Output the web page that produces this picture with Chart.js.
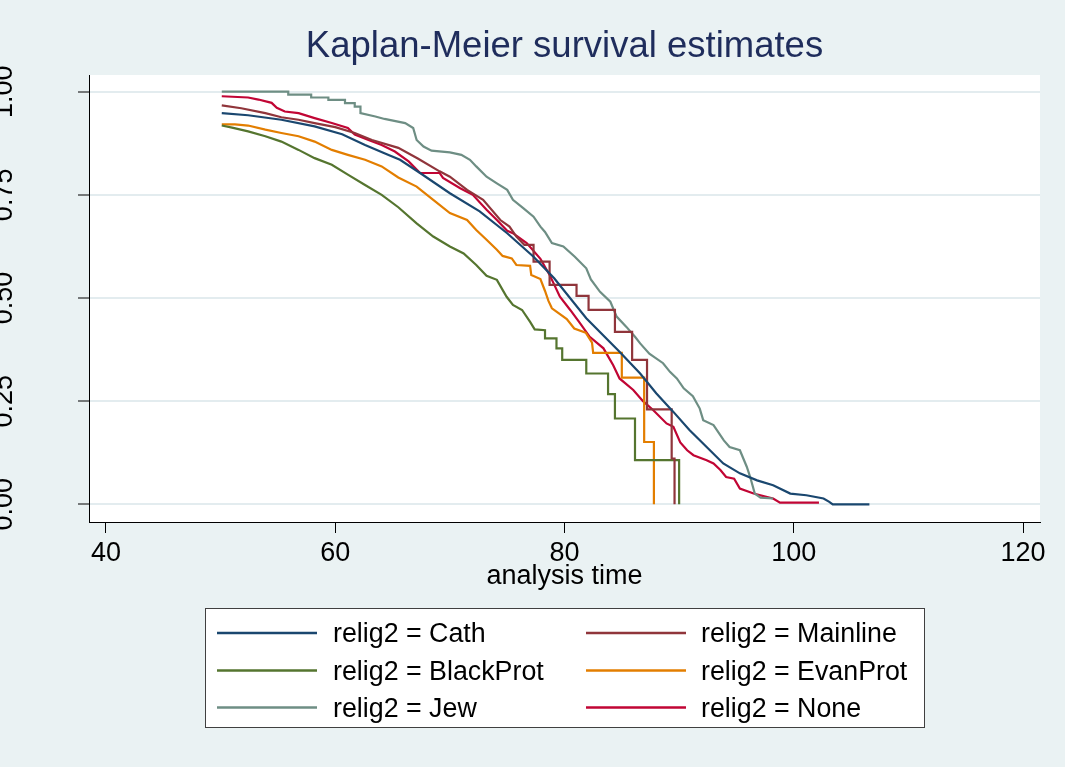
<!DOCTYPE html>
<html><head><meta charset="utf-8">
<script src="https://cdn.jsdelivr.net/npm/chart.js@4.4.1/dist/chart.umd.min.js"></script>
<style>html,body{margin:0;padding:0;background:#eaf2f3;} canvas{display:block;}</style>
</head><body>
<canvas id="c" width="1065" height="767"></canvas>
<script>
// ---- data (time, survival) ----
const seriesLabels = ['relig2 = Cath','relig2 = Mainline','relig2 = BlackProt','relig2 = EvanProt','relig2 = Jew','relig2 = None'];
const xTicks = [40, 60, 80, 100, 120];
const yTicks = [0, 0.25, 0.5, 0.75, 1];

const cath = [[50.1,0.948],[52.4,0.943],[55.3,0.932],[58.2,0.916],[60.6,0.897],[62.6,0.871],[64.6,0.847],[65.65,0.835],[67.4,0.803],[70.0,0.754],[72.6,0.710],[75.0,0.657],[77.3,0.600],[79.1,0.548],[81.9,0.451],[84.8,0.370],[86.6,0.317],[88.0,0.269],[89.5,0.224],[90.9,0.180],[92.4,0.139],[93.85,0.099],[95.3,0.075],[96.8,0.058],[98.2,0.046],[99.7,0.026],[101.1,0.022],[102.6,0.014],[103.1,0.006],[103.4,0.0],[106.6,0.0]];

const mainline = [[50.1,0.967],[51.8,0.960],[53.9,0.948],[55.3,0.938],[56.8,0.932],[58.2,0.924],[60.0,0.914],[61.7,0.900],[63.2,0.883],[65.5,0.864],[67.2,0.838],[69.1,0.807],[70.0,0.794],[71.5,0.762],[72.9,0.738],[74.4,0.689],[75.2,0.673],[75.8,0.649],[76.5,0.629],[77.3,0.629],[77.3,0.588],[78.7,0.588],[78.7,0.532],[81.05,0.532],[81.05,0.505],[82.1,0.505],[82.1,0.471],[84.4,0.471],[84.4,0.418],[85.9,0.418],[85.9,0.350],[87.2,0.350],[87.2,0.230],[89.35,0.230],[89.35,0.111],[89.6,0.111],[89.6,0.0]];

const blackProt = [[50.1,0.918],[51.0,0.913],[52.4,0.904],[53.9,0.892],[55.3,0.879],[56.8,0.859],[58.2,0.839],[59.7,0.823],[61.1,0.799],[62.6,0.774],[64.05,0.750],[65.5,0.720],[67.1,0.681],[68.55,0.649],[70.0,0.625],[71.2,0.608],[72.3,0.580],[73.2,0.554],[74.1,0.544],[74.95,0.503],[75.5,0.483],[76.3,0.471],[77.0,0.442],[77.4,0.424],[78.3,0.422],[78.3,0.402],[79.3,0.402],[79.3,0.378],[79.8,0.378],[79.8,0.350],[81.9,0.350],[81.9,0.317],[83.8,0.317],[83.8,0.267],[84.4,0.267],[84.4,0.208],[86.15,0.208],[86.15,0.107],[90.0,0.107],[90.0,0.0]];

const evanProt = [[50.1,0.921],[51.25,0.921],[52.4,0.918],[53.9,0.908],[55.3,0.900],[56.8,0.892],[58.2,0.879],[59.7,0.859],[61.1,0.847],[62.6,0.835],[64.05,0.819],[65.5,0.792],[67.1,0.770],[68.55,0.738],[70.0,0.706],[71.5,0.689],[72.3,0.665],[73.2,0.641],[74.1,0.617],[74.6,0.602],[75.4,0.596],[75.8,0.580],[77.0,0.578],[77.1,0.556],[77.9,0.546],[78.3,0.517],[78.6,0.493],[78.9,0.475],[79.3,0.467],[80.2,0.449],[80.85,0.426],[81.85,0.416],[82.4,0.392],[82.5,0.367],[85.0,0.367],[85.0,0.307],[86.95,0.307],[86.95,0.151],[87.8,0.151],[87.8,0.0]];

const jew = [[50.1,1.0],[55.9,1.0],[55.9,0.993],[57.9,0.993],[57.9,0.986],[59.4,0.986],[59.4,0.980],[60.85,0.980],[60.85,0.9725],[61.7,0.9725],[61.7,0.964],[62.2,0.964],[62.2,0.948],[63.5,0.940],[64.3,0.934],[66.1,0.924],[66.8,0.912],[67.1,0.883],[67.7,0.867],[68.4,0.857],[70.0,0.853],[71.0,0.847],[71.75,0.835],[72.3,0.819],[73.2,0.794],[74.1,0.778],[75.0,0.762],[75.5,0.738],[76.4,0.718],[77.3,0.697],[77.9,0.673],[78.3,0.660],[78.9,0.633],[79.9,0.625],[80.9,0.600],[81.9,0.572],[82.3,0.545],[83.1,0.515],[84.0,0.491],[84.55,0.455],[85.4,0.430],[86.15,0.406],[86.6,0.390],[87.4,0.365],[88.6,0.342],[89.2,0.321],[89.8,0.305],[90.4,0.281],[91.2,0.262],[91.8,0.232],[92.1,0.204],[93.0,0.192],[93.9,0.155],[94.4,0.139],[95.3,0.131],[95.9,0.091],[96.2,0.066],[96.6,0.026],[97.1,0.016],[98.2,0.014]];

const none = [[50.1,0.989],[52.4,0.986],[53.3,0.981],[54.45,0.973],[54.9,0.961],[55.6,0.952],[56.8,0.948],[58.2,0.936],[59.7,0.924],[61.1,0.912],[61.7,0.896],[62.9,0.883],[64.05,0.871],[65.2,0.855],[66.4,0.831],[67.4,0.803],[69.1,0.803],[69.4,0.791],[70.9,0.766],[72.0,0.750],[73.2,0.714],[74.1,0.689],[75.0,0.663],[75.5,0.657],[76.7,0.633],[77.9,0.595],[78.7,0.556],[79.6,0.503],[80.5,0.471],[81.35,0.439],[82.2,0.406],[83.4,0.378],[84.25,0.337],[84.8,0.305],[86.0,0.277],[86.85,0.250],[87.75,0.228],[88.9,0.196],[89.5,0.188],[90.1,0.150],[90.7,0.131],[91.25,0.119],[92.4,0.107],[93.0,0.099],[93.6,0.083],[94.1,0.066],[94.8,0.062],[95.3,0.038],[96.5,0.026],[97.6,0.018],[98.2,0.014],[98.8,0.004],[102.2,0.004]];

const seriesData = [cath, mainline, blackProt, evanProt, jew, none];

// ---- styling / chart ----
const lineColors = ['#1a476f','#90353b','#55752f','#e37e00','#6e8e84','#c10534'];
const FONT = "'Liberation Sans', Arial, Helvetica, sans-serif";
Chart.defaults.font.family = FONT;

const bgPlugin = {
  id: 'bg',
  beforeDraw(chart) {
    const {ctx, chartArea: a} = chart;
    ctx.save();
    ctx.fillStyle = '#eaf2f3';
    ctx.fillRect(0, 0, chart.width, chart.height);
    ctx.fillStyle = '#ffffff';
    ctx.fillRect(a.left, a.top, a.right - a.left, a.bottom - a.top);
    ctx.restore();
  }
};

const boxLegend = {
  id: 'boxLegend',
  afterDraw(chart) {
    const ctx = chart.ctx;
    ctx.save();
    ctx.fillStyle = '#ffffff';
    ctx.fillRect(206, 609, 719, 119);
    ctx.strokeStyle = '#404040';
    ctx.lineWidth = 1;
    ctx.strokeRect(205.5, 608.5, 719, 119);
    const cols = [[217, 333], [586, 701]];
    const rows = [633, 670.5, 707.5];
    chart.data.datasets.forEach((ds, i) => {
      const c = cols[i % 2], y = rows[Math.floor(i / 2)];
      ctx.strokeStyle = ds.borderColor;
      ctx.lineWidth = 2.5;
      ctx.beginPath(); ctx.moveTo(c[0], y); ctx.lineTo(c[0] + 100, y); ctx.stroke();
      ctx.fillStyle = '#000';
      ctx.font = '26.8px ' + FONT;
      ctx.textBaseline = 'middle';
      ctx.textAlign = 'left';
      ctx.fillText(ds.label, c[1], y + 2);
    });
    ctx.restore();
  }
};

new Chart(document.getElementById('c'), {
  type: 'line',
  data: {
    datasets: seriesData.map((d, i) => ({
      label: seriesLabels[i],
      data: d.map(p => ({x: p[0], y: p[1]})),
      borderColor: lineColors[i],
      backgroundColor: lineColors[i],
      borderWidth: 2.2,
      pointRadius: 0,
      tension: 0,
      fill: false
    }))
  },
  options: {
    responsive: false,
    animation: false,
    devicePixelRatio: 1,
    layout: { padding: { left: 0, right: 25, top: 0, bottom: 170 } },
    plugins: {
      legend: { display: false },
      tooltip: { enabled: false },
      title: {
        display: true, text: 'Kaplan-Meier survival estimates', fullSize: false,
        color: '#1f2d5c', font: { size: 36.5, weight: 'normal' },
        padding: { top: 25, bottom: 6.2 }
      }
    },
    scales: {
      x: {
        type: 'linear', min: 38.517, max: 121.483,
        afterBuildTicks: s => { s.ticks = xTicks.map(v => ({value: v})); },
        afterFit: s => { s.height = 75; },
        grid: { drawOnChartArea: false, tickLength: 11, tickColor: '#000', tickWidth: 1 },
        border: { color: '#000', width: 1 },
        ticks: { color: '#000', font: { size: 27 }, padding: 4, maxRotation: 0, autoSkip: false, callback: v => String(v) },
        title: { display: true, text: 'analysis time', color: '#000', font: { size: 27 }, padding: { top: 0, bottom: 4 } }
      },
      y: {
        type: 'linear', min: -0.0429, max: 1.0405,
        afterBuildTicks: s => { s.ticks = yTicks.map(v => ({value: v})); },
        afterFit: s => { s.width = 89; },
        grid: { color: '#e3ecef', lineWidth: 2, tickLength: 11, tickColor: '#000', tickWidth: 1 },
        border: { color: '#000', width: 1 },
        ticks: { color: '#000', font: { size: 27 }, padding: 47.5, minRotation: 90, maxRotation: 90, crossAlign: 'center', autoSkip: false, callback: v => Number(v).toFixed(2) }
      }
    }
  },
  plugins: [bgPlugin, boxLegend]
});
</script>
</body></html>
